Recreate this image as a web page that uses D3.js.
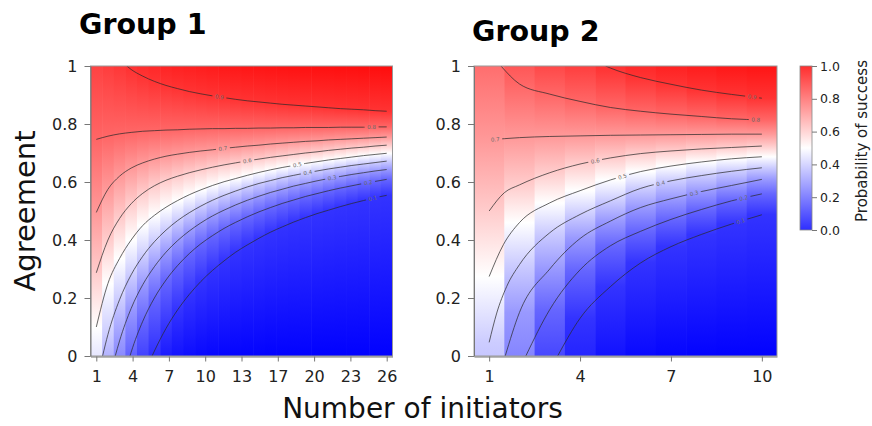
<!DOCTYPE html>
<html>
<head>
<meta charset="utf-8">
<script src="https://cdnjs.cloudflare.com/ajax/libs/d3/7.8.5/d3.min.js"></script>
<style>
  body { margin: 0; background: #fff; }
  text { font-family: "DejaVu Sans", Verdana, sans-serif; }
</style>
</head>
<body>
<div id="chart"></div>
<script>
// contour levels and axis ticks
const levels = [0.1, 0.2, 0.3, 0.4, 0.5, 0.6, 0.7, 0.8, 0.9];
const yTicks = [0, 0.2, 0.4, 0.6, 0.8, 1];
const yTickLabels = ["0", "0.2", "0.4", "0.6", "0.8", "1"];
const barTicks = [0, 0.2, 0.4, 0.6, 0.8, 1];

// Group 1: number of initiators (columns), probability at agreement 1 and 0
const g1N = [1,2,3,4,5,6,7,8,9,10,11,12,13,14,15,16,17,18,19,20,21,22,23,24,25,26];
const g1Top = [0.87,0.88,0.893,0.905,0.914,0.922,0.929,0.935,0.94,0.944,0.948,0.952,0.955,0.958,0.96,0.962,0.964,0.966,0.968,0.97,0.971,0.972,0.973,0.974,0.975,0.976];
const g1Bottom = [0.45,0.35,0.27,0.19,0.13,0.09,0.05,0.035,0.025,0.018,0.013,0.01,0.008,0.006,0.005,0.004,0.004,0.003,0.003,0.002,0.002,0.002,0.001,0.001,0.001,0.001];
const g1TickN = [1,4.125,7.25,10.375,13.5,16.625,19.75,22.875,26];
const g1TickLabels = ["1","4","7","10","13","17","20","23","26"];
const g1LabelN = [24.8,24.4,21.3,19.2,18.3,14,11.9,24.7,11.6];
// agreement where each contour level is reached: [initiators, agreement]
const g1Lines = [
  [[5.8,0],[6,0.017],[7,0.095],[8,0.159],[9,0.212],[10,0.257],[11,0.295],[12,0.328],[13,0.358],[14,0.383],[15,0.406],[16,0.427],[17,0.445],[18,0.462],[19,0.477],[20,0.491],[21,0.503],[22,0.515],[23,0.526],[24,0.536],[25,0.546],[26,0.554]],
  [[3.9,0],[4,0.013],[5,0.12],[6,0.2],[7,0.262],[8,0.312],[9,0.353],[10,0.387],[11,0.415],[12,0.44],[13,0.461],[14,0.48],[15,0.497],[16,0.512],[17,0.526],[18,0.538],[19,0.55],[20,0.56],[21,0.57],[22,0.579],[23,0.587],[24,0.595],[25,0.602],[26,0.609]],
  [[2.63,0],[3,0.052],[4,0.164],[5,0.246],[6,0.308],[7,0.358],[8,0.398],[9,0.431],[10,0.459],[11,0.483],[12,0.503],[13,0.521],[14,0.537],[15,0.551],[16,0.564],[17,0.575],[18,0.586],[19,0.595],[20,0.604],[21,0.612],[22,0.619],[23,0.626],[24,0.632],[25,0.638],[26,0.643]],
  [[1.54,0],[2,0.074],[3,0.194],[4,0.28],[5,0.344],[6,0.394],[7,0.434],[8,0.467],[9,0.494],[10,0.517],[11,0.537],[12,0.554],[13,0.569],[14,0.583],[15,0.595],[16,0.605],[17,0.615],[18,0.623],[19,0.631],[20,0.638],[21,0.645],[22,0.651],[23,0.657],[24,0.662],[25,0.667],[26,0.672]],
  [[1,0.1],[2,0.25],[3,0.336],[4,0.4],[5,0.45],[6,0.485],[7,0.513],[8,0.536],[9,0.556],[10,0.573],[11,0.588],[12,0.601],[13,0.612],[14,0.623],[15,0.633],[16,0.642],[17,0.65],[18,0.657],[19,0.664],[20,0.67],[21,0.676],[22,0.681],[23,0.686],[24,0.691],[25,0.695],[26,0.699]],
  [[1,0.287],[2,0.4],[3,0.474],[4,0.525],[5,0.561],[6,0.587],[7,0.606],[8,0.62],[9,0.632],[10,0.642],[11,0.651],[12,0.659],[13,0.666],[14,0.673],[15,0.679],[16,0.685],[17,0.69],[18,0.695],[19,0.7],[20,0.704],[21,0.709],[22,0.713],[23,0.717],[24,0.72],[25,0.724],[26,0.727]],
  [[1,0.495],[2,0.575],[3,0.62],[4,0.648],[5,0.666],[6,0.679],[7,0.689],[8,0.696],[9,0.702],[10,0.707],[11,0.711],[12,0.716],[13,0.72],[14,0.724],[15,0.727],[16,0.731],[17,0.734],[18,0.737],[19,0.74],[20,0.742],[21,0.745],[22,0.747],[23,0.749],[24,0.751],[25,0.753],[26,0.755]],
  [[1,0.747],[2,0.758],[3,0.766],[4,0.771],[5,0.775],[6,0.777],[7,0.779],[8,0.78],[9,0.782],[10,0.783],[11,0.784],[12,0.784],[13,0.785],[14,0.785],[15,0.786],[16,0.786],[17,0.787],[18,0.787],[19,0.788],[20,0.788],[21,0.788],[22,0.789],[23,0.789],[24,0.789],[25,0.79],[26,0.79]],
  [[3.62,1],[4,0.988],[5,0.965],[6,0.947],[7,0.933],[8,0.922],[9,0.912],[10,0.904],[11,0.897],[12,0.891],[13,0.885],[14,0.88],[15,0.876],[16,0.872],[17,0.868],[18,0.865],[19,0.862],[20,0.859],[21,0.856],[22,0.853],[23,0.851],[24,0.849],[25,0.846],[26,0.844]]
];

// Group 2
const g2N = [1,2,3,4,5,6,7,8,9,10];
const g2Top = [0.785,0.83,0.858,0.878,0.905,0.922,0.936,0.946,0.954,0.96];
const g2Bottom = [0.39,0.26,0.14,0.07,0.035,0.018,0.01,0.006,0.004,0.003];
const g2TickN = [1,4,7,10];
const g2TickLabels = ["1","4","7","10"];
const g2LabelN = [9.3,9.4,7.76,6.66,5.4,4.5,1.2,9.8,9.68];
const g2Lines = [
  [[3.26,0],[4,0.13],[5,0.239],[6,0.321],[7,0.377],[8,0.419],[9,0.455],[10,0.487]],
  [[2.21,0],[3,0.16],[4,0.297],[5,0.38],[6,0.43],[7,0.471],[8,0.505],[9,0.535],[10,0.559]],
  [[1.53,0],[2,0.15],[3,0.3],[4,0.405],[5,0.465],[6,0.512],[7,0.542],[8,0.567],[9,0.588],[10,0.609]],
  [[1,0.047],[1.25,0.148],[1.58,0.24],[2,0.315],[3,0.425],[4,0.488],[5,0.535],[6,0.578],[7,0.604],[8,0.622],[9,0.637],[10,0.649]],
  [[1,0.274],[1.47,0.384],[2,0.46],[3,0.528],[4,0.57],[5,0.607],[6,0.636],[7,0.655],[8,0.669],[9,0.68],[10,0.687]],
  [[1,0.5],[1.5,0.563],[2,0.59],[3,0.632],[4,0.662],[5,0.683],[6,0.698],[7,0.707],[8,0.714],[9,0.719],[10,0.724]],
  [[1,0.745],[2,0.753],[3,0.757],[4,0.759],[5,0.761],[6,0.762],[7,0.763],[8,0.764],[9,0.765],[10,0.765]],
  [[1.39,1],[2,0.938],[3,0.903],[4,0.878],[5,0.857],[6,0.844],[7,0.834],[8,0.826],[9,0.818],[10,0.814]],
  [[4.84,1],[5,0.993],[6,0.96],[7,0.937],[8,0.917],[9,0.902],[10,0.889]]
];

let width = 872,
  height = 426;

let svg = d3.select("#chart")
  .append("svg")
  .attr("width", width)
  .attr("height", height);

let defs = svg.append("defs");

let color = d3.scaleLinear()
  .domain([0, 0.5, 1])
  .range(["#0000ff", "#ffffff", "#ff0000"]);

let y = d3.scaleLinear().domain([0, 1]).range([356, 66]);

function interpA(line, n) {
  let i = d3.bisector(d => d[0]).left(line, n);
  if (i <= 0) return line[0][1];
  if (i >= line.length) return line[line.length - 1][1];
  let p0 = line[i - 1], p1 = line[i];
  let t = (n - p0[0]) / (p1[0] - p0[0]);
  return p0[1] + t * (p1[1] - p0[1]);
}

function styleAxis(g, size) {
  g.select(".domain").attr("stroke", "#777");
  g.selectAll(".tick line").attr("stroke", "#777");
  g.selectAll(".tick text")
    .attr("fill", "#222")
    .style("font-size", size + "px")
    .style("font-family", "'DejaVu Sans', Verdana, sans-serif");
}

function buildPanel(id, cols, pTop, pBottom, lines, labelN, tickN, tickLabels, x0, x1) {
  let x = d3.scaleLinear()
    .domain([cols[0] - 0.5, cols[cols.length - 1] + 0.5])
    .range([x0, x1]);

  let g = svg.append("g");

  // one vertical gradient per column, stops taken from the contour crossings
  cols.forEach((n, i) => {
    let stops = [[0, pBottom[i]]];
    lines.forEach((line, k) => {
      let pt = line.find(d => d[0] === n);
      if (pt) stops.push([pt[1], levels[k]]);
    });
    stops.push([1, pTop[i]]);
    stops.sort((a, b) => a[0] - b[0]);

    let grad = defs.append("linearGradient")
      .attr("id", id + "-col" + i)
      .attr("x1", 0).attr("y1", 1)
      .attr("x2", 0).attr("y2", 0);
    grad.selectAll("stop")
      .data(stops)
      .join("stop")
      .attr("offset", d => d[0])
      .attr("stop-color", d => color(d[1]));
  });

  g.selectAll("rect.cell")
    .data(cols)
    .join("rect")
    .attr("class", "cell")
    .attr("x", d => x(d - 0.5))
    .attr("y", y(1))
    .attr("width", (d, i) => x(d + 0.5) - x(d - 0.5) + (i < cols.length - 1 ? 0.6 : 0))
    .attr("height", y(0) - y(1))
    .attr("fill", (d, i) => "url(#" + id + "-col" + i + ")");

  // label positions along each contour
  let labels = levels.map((lv, k) => {
    let n = labelN[k];
    let line = lines[k];
    let px = x(n), py = y(interpA(line, n));
    let dx = x(n + 0.3) - x(n - 0.3);
    let dy = y(interpA(line, n + 0.3)) - y(interpA(line, n - 0.3));
    return { text: String(lv), px, py, angle: Math.atan2(dy, dx) * 180 / Math.PI };
  });

  let clip = defs.append("clipPath").attr("id", id + "-clip");
  clip.append("rect")
    .attr("x", x0).attr("y", y(1))
    .attr("width", x1 - x0).attr("height", y(0) - y(1));

  let mask = defs.append("mask")
    .attr("id", id + "-mask")
    .attr("maskUnits", "userSpaceOnUse")
    .attr("x", 0).attr("y", 0)
    .attr("width", width).attr("height", height);
  mask.append("rect")
    .attr("x", 0).attr("y", 0)
    .attr("width", width).attr("height", height)
    .attr("fill", "#fff");
  mask.selectAll("rect.gap")
    .data(labels)
    .join("rect")
    .attr("class", "gap")
    .attr("x", -7).attr("y", -3)
    .attr("width", 14).attr("height", 6)
    .attr("fill", "#000")
    .attr("transform", d => `translate(${d.px},${d.py}) rotate(${d.angle})`);

  let lineGen = d3.line()
    .x(d => x(d[0]))
    .y(d => y(d[1]))
    .curve(d3.curveMonotoneX);

  g.append("g")
    .attr("clip-path", "url(#" + id + "-clip)")
    .append("g")
    .attr("mask", "url(#" + id + "-mask)")
    .selectAll("path")
    .data(lines)
    .join("path")
    .attr("d", lineGen)
    .attr("fill", "none")
    .attr("stroke", "#2a2a2a")
    .attr("stroke-width", 0.85)
    .attr("stroke-opacity", 0.85);

  g.selectAll("text.clab")
    .data(labels)
    .join("text")
    .attr("class", "clab")
    .attr("transform", d => `translate(${d.px},${d.py}) rotate(${d.angle})`)
    .attr("text-anchor", "middle")
    .attr("dy", "0.35em")
    .attr("fill", "#6a6a6a")
    .style("font-size", "5.5px")
    .text(d => d.text);

  // frame
  g.append("rect")
    .attr("x", x0).attr("y", y(1))
    .attr("width", x1 - x0).attr("height", y(0) - y(1))
    .attr("fill", "none")
    .attr("stroke", "#999")
    .attr("stroke-width", 1);

  let yAxis = g.append("g")
    .attr("transform", `translate(${x0},0)`)
    .call(d3.axisLeft(y)
      .tickValues(yTicks)
      .tickFormat((d, i) => yTickLabels[i])
      .tickSize(6)
      .tickPadding(7)
      .tickSizeOuter(0));
  styleAxis(yAxis, 16);

  let xAxis = g.append("g")
    .attr("transform", `translate(0,${y(0) + 0.5})`)
    .call(d3.axisBottom(x)
      .tickValues(tickN)
      .tickFormat((d, i) => tickLabels[i])
      .tickSize(5)
      .tickPadding(9)
      .tickSizeOuter(0));
  styleAxis(xAxis, 16);
}

buildPanel("g1", g1N, g1Top, g1Bottom, g1Lines, g1LabelN, g1TickN, g1TickLabels, 90.5, 392.5);
buildPanel("g2", g2N, g2Top, g2Bottom, g2Lines, g2LabelN, g2TickN, g2TickLabels, 474, 777);

// titles
svg.append("text")
  .attr("x", 79).attr("y", 34)
  .style("font-size", "28.5px")
  .style("font-weight", "bold")
  .attr("fill", "#000")
  .text("Group 1");

svg.append("text")
  .attr("x", 472).attr("y", 40.5)
  .style("font-size", "28.5px")
  .style("font-weight", "bold")
  .attr("fill", "#000")
  .text("Group 2");

svg.append("text")
  .attr("transform", "translate(35,211) rotate(-90)")
  .attr("text-anchor", "middle")
  .style("font-size", "29px")
  .attr("fill", "#111")
  .text("Agreement");

svg.append("text")
  .attr("x", 422.5).attr("y", 418)
  .attr("text-anchor", "middle")
  .style("font-size", "28px")
  .attr("fill", "#111")
  .text("Number of initiators");

// colour bar
let yc = d3.scaleLinear().domain([0, 1]).range([230, 66]);

let barGrad = defs.append("linearGradient")
  .attr("id", "bar-grad")
  .attr("x1", 0).attr("y1", 1)
  .attr("x2", 0).attr("y2", 0);
barGrad.selectAll("stop")
  .data([0, 0.25, 0.5, 0.75, 1])
  .join("stop")
  .attr("offset", d => d)
  .attr("stop-color", d => color(d));

svg.append("rect")
  .attr("x", 800).attr("y", yc(1))
  .attr("width", 12).attr("height", yc(0) - yc(1))
  .attr("fill", "url(#bar-grad)")
  .attr("fill-opacity", 0.82)
  .attr("stroke", "#888")
  .attr("stroke-width", 0.8);

let barAxis = svg.append("g")
  .attr("transform", "translate(812,0)")
  .call(d3.axisRight(yc)
    .tickValues(barTicks)
    .tickFormat(d3.format(".1f"))
    .tickSize(5)
    .tickPadding(3)
    .tickSizeOuter(0));
styleAxis(barAxis, 12.5);
barAxis.select(".domain").remove();

svg.append("text")
  .attr("transform", "translate(867,141) rotate(-90)")
  .attr("text-anchor", "middle")
  .style("font-size", "15px")
  .attr("fill", "#222")
  .text("Probability of success");
</script>
</body>
</html>
